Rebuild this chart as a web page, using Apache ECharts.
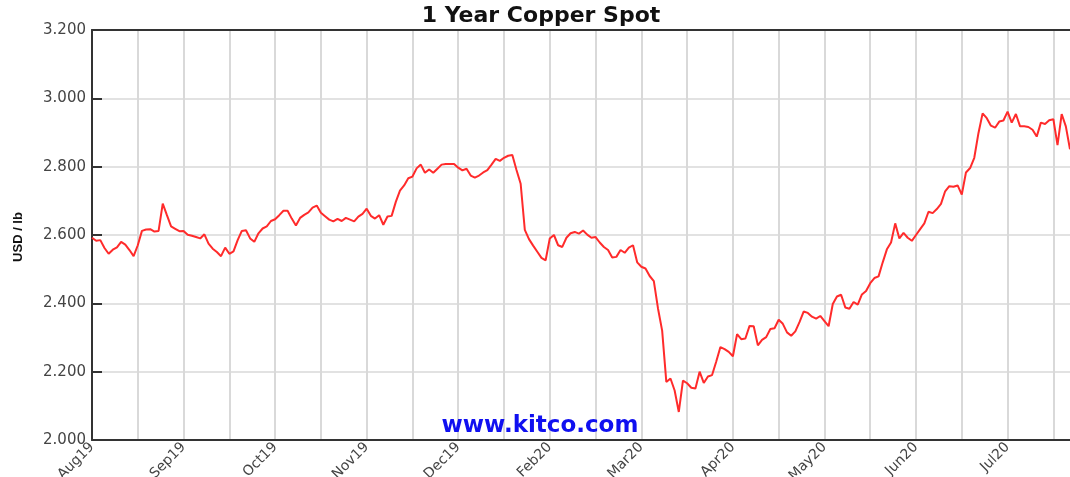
<!DOCTYPE html>
<html>
<head>
<meta charset="utf-8">
<script src="https://cdn.jsdelivr.net/npm/echarts@6/dist/echarts.min.js"></script>
<style>
  html, body { margin: 0; padding: 0; background: #fff; }
  #chart { width: 1070px; height: 477px; }
</style>
</head>
<body>
<div id="chart"></div>
<script>
// Tick labels shown every 22 trading days
const tickLabels = ['Aug19','Sep19','Oct19','Nov19','Dec19','Feb20','Mar20','Apr20','May20','Jun20','Jul20'];

// Copper spot price, USD / lb, one value per trading day
const prices = [
  2.592,2.583,2.585,2.562,2.545,2.557,2.564,2.580,2.572,2.556,
  2.538,2.570,2.612,2.616,2.617,2.610,2.612,2.692,2.658,2.625,
  2.618,2.611,2.612,2.601,2.598,2.594,2.590,2.602,2.575,2.560,
  2.550,2.538,2.563,2.545,2.552,2.585,2.612,2.614,2.590,2.580,
  2.605,2.619,2.625,2.641,2.646,2.658,2.671,2.671,2.648,2.628,
  2.650,2.659,2.666,2.680,2.686,2.665,2.655,2.645,2.640,2.647,
  2.641,2.650,2.645,2.640,2.654,2.662,2.677,2.656,2.648,2.658,
  2.630,2.654,2.656,2.697,2.730,2.745,2.766,2.771,2.795,2.806,
  2.782,2.792,2.782,2.794,2.806,2.808,2.808,2.808,2.797,2.789,
  2.794,2.774,2.768,2.774,2.783,2.790,2.806,2.823,2.817,2.826,
  2.832,2.834,2.790,2.750,2.615,2.588,2.569,2.551,2.533,2.526,
  2.590,2.600,2.570,2.565,2.592,2.605,2.609,2.604,2.613,2.601,
  2.592,2.594,2.578,2.565,2.556,2.534,2.536,2.556,2.548,2.563,
  2.570,2.520,2.507,2.502,2.480,2.465,2.385,2.320,2.170,2.180,
  2.145,2.082,2.174,2.166,2.153,2.151,2.200,2.167,2.186,2.190,
  2.230,2.272,2.266,2.258,2.245,2.310,2.295,2.297,2.334,2.333,
  2.277,2.293,2.301,2.325,2.327,2.352,2.340,2.315,2.305,2.318,
  2.345,2.376,2.372,2.361,2.355,2.363,2.348,2.333,2.398,2.420,
  2.425,2.388,2.384,2.404,2.396,2.426,2.436,2.459,2.474,2.479,
  2.520,2.558,2.578,2.634,2.590,2.606,2.592,2.583,2.600,2.617,
  2.634,2.668,2.664,2.676,2.691,2.728,2.743,2.741,2.745,2.718,
  2.783,2.796,2.826,2.898,2.956,2.942,2.920,2.914,2.932,2.935,
  2.961,2.929,2.954,2.918,2.918,2.916,2.908,2.888,2.929,2.925,
  2.936,2.939,2.863,2.954,2.918,2.851
];

const categories = prices.map((_, i) => String(i));
const LABEL_STEP = 22;
const GRID_STEP = 11;

const chart = echarts.init(document.getElementById('chart'), null, { renderer: 'canvas' });

const option = {
  animation: false,
  backgroundColor: '#ffffff',
  grid: { left: 92, right: 0, top: 30, bottom: 37, containLabel: false, outerBoundsMode: 'none' },
  graphic: [
    { type: 'text', x: 541, y: 16, style: { text: '1 Year Copper Spot', font: 'bold 22px "DejaVu Sans"', fill: '#111', align: 'center', verticalAlign: 'middle' } },
    { type: 'text', x: 18, y: 237, rotation: Math.PI / 2, style: { text: 'USD / lb', font: 'bold 13px "Liberation Sans"', fill: '#111', align: 'center', verticalAlign: 'middle' } },
    { type: 'text', x: 540, y: 426, z: 100, style: { text: 'www.kitco.com', font: 'bold 23px "DejaVu Sans"', fill: '#1010f0', align: 'center', verticalAlign: 'middle' } }
  ],
  xAxis: [
    {
      type: 'category',
      data: categories,
      boundaryGap: false,
      axisLine: { show: true, lineStyle: { color: '#333', width: 2 } },
      axisTick: { show: false },
      axisLabel: {
        interval: LABEL_STEP - 1,
        rotate: 45,
        margin: 5,
        color: '#444',
        fontFamily: 'DejaVu Sans',
        fontSize: 14,
        formatter: (v, idx) => tickLabels[Math.round(idx / LABEL_STEP)] || ''
      },
      splitLine: { show: true, interval: GRID_STEP - 1, lineStyle: { color: '#d9d9d9', width: 2 } }
    },
    {
      type: 'category',
      position: 'top',
      data: categories,
      boundaryGap: false,
      axisLine: { show: true, lineStyle: { color: '#333', width: 2 } },
      axisTick: { show: false },
      axisLabel: { show: false },
      splitLine: { show: false }
    }
  ],
  yAxis: {
    type: 'value',
    min: 2.0,
    max: 3.2,
    interval: 0.2,
    axisLine: { show: true, lineStyle: { color: '#333', width: 2 } },
    axisTick: { show: true, inside: true, length: 10, lineStyle: { color: '#333', width: 2 } },
    axisLabel: {
      margin: 6,
      color: '#444',
      fontFamily: 'DejaVu Sans',
      fontSize: 15,
      formatter: v => v.toFixed(3)
    },
    splitLine: { show: true, lineStyle: { color: '#d9d9d9', width: 1.5 } }
  },
  series: [{
    type: 'line',
    data: prices,
    showSymbol: false,
    symbol: 'none',
    smooth: false,
    lineStyle: { color: '#ff2b2b', width: 2 },
    z: 5
  }]
};

chart.setOption(option);
</script>
</body>
</html>
